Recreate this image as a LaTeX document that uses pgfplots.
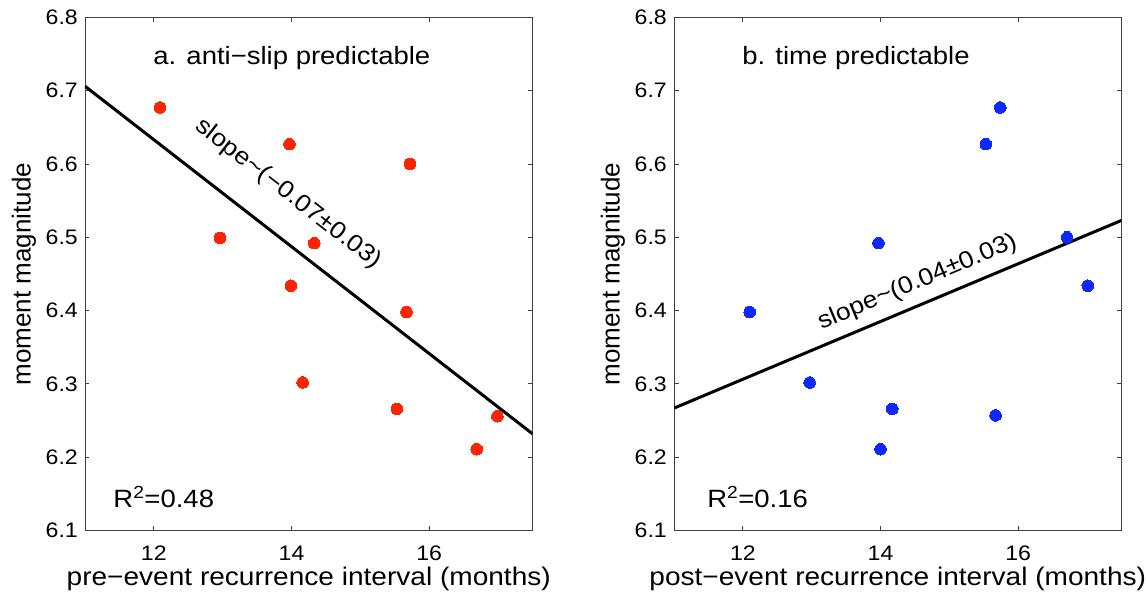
\documentclass[border=0pt]{standalone}
\usepackage{pgfplots}
\pgfplotsset{compat=1.18}
\usepackage{fontspec}
\setmainfont[FakeStretch=1.1]{Liberation Sans}
\newfontfamily\ylfont{Liberation Sans}
\definecolor{ptred}{RGB}{255,35,0}
\definecolor{ptblue}{RGB}{15,40,255}
\pgfplotsset{
  myax/.style={
    scale only axis, width=447.5bp, height=513.3bp,
    xmin=11, xmax=17.5, ymin=6.1, ymax=6.8,
    xtick={12,14,16}, xticklabels={12,14,16},
    ytick={6.1,6.2,6.3,6.4,6.5,6.6,6.7,6.8},
    yticklabels={6.1,6.2,6.3,6.4,6.5,6.6,6.7,6.8},
    tick align=inside, major tick length=4.5bp,
    xtick pos=both, ytick pos=both,
    axis line style={black!75, line width=0.9bp},
    every tick/.style={black!75, line width=0.9bp},
    tick label style={font=\fontsize{21bp}{25bp}\selectfont, inner sep=0pt},
    yticklabel style={xshift=-7bp},
    xticklabel style={yshift=-15bp},
    x label style={at={(axis description cs:0.5,-0.106)}, anchor=base, inner sep=0pt,
      font=\fontsize{25.5bp}{30bp}\selectfont},
    y label style={at={(axis description cs:-0.1363,0.5)}, anchor=center, inner sep=0pt,
      font=\ylfont\fontsize{26bp}{30bp}\selectfont},
    ylabel={moment magnitude},
  }
}
\begin{document}
\begin{tikzpicture}
\useasboundingbox (-85bp,-65.4bp) rectangle (1061bp,530.6bp);
\begin{axis}[myax, at={(0,0)}, anchor=south west,
  xlabel={pre−event recurrence interval (months)}]
\addplot[only marks, mark=*, mark size=5.8bp, mark options={fill=ptred, draw=ptred, line width=0pt}]
  coordinates {
  (12.09,6.677) (13.97,6.627) (15.72,6.600) (12.96,6.499) (14.33,6.492)
  (13.99,6.434) (15.67,6.398) (14.16,6.302) (15.53,6.266) (16.99,6.256)
  (16.69,6.211)
  };
\addplot[black, line width=3bp] coordinates {(11,6.706) (17.5,6.232)};
\node[anchor=base west, inner sep=0pt, font=\fontsize{25bp}{30bp}\selectfont]
  at (axis cs:11.99,6.735) {a. anti−slip predictable};
\node[anchor=base west, inner sep=0pt, font=\fontsize{25bp}{30bp}\selectfont]
  at (axis cs:11.41,6.1315) {R\textsuperscript{2}=0.48};
\node[rotate=-37.85, inner sep=0pt, font=\fontsize{24bp}{28bp}\selectfont]
  at (axis cs:13.955,6.559) {slope\textasciitilde(−0.07±0.03)};
\end{axis}
\begin{axis}[myax, at={(589bp,0)}, anchor=south west,
  xlabel={post−event recurrence interval (months)}]
\addplot[only marks, mark=*, mark size=5.8bp, mark options={fill=ptblue, draw=ptblue, line width=0pt}]
  coordinates {
  (15.74,6.677) (15.53,6.627) (13.97,6.492) (16.71,6.500) (17.01,6.434)
  (12.10,6.398) (12.97,6.302) (14.17,6.266) (15.67,6.257) (14.00,6.211)
  };
\addplot[black, line width=3bp] coordinates {(11,6.267) (17.5,6.523)};
\node[anchor=base west, inner sep=0pt, font=\fontsize{25bp}{30bp}\selectfont]
  at (axis cs:11.99,6.735) {b. time predictable};
\node[anchor=base west, inner sep=0pt, font=\fontsize{25bp}{30bp}\selectfont]
  at (axis cs:11.48,6.1315) {R\textsuperscript{2}=0.16};
\node[rotate=22.8, inner sep=0pt, font=\fontsize{24bp}{28bp}\selectfont]
  at (axis cs:14.536,6.4385) {slope\textasciitilde(0.04±0.03)};
\end{axis}
\end{tikzpicture}
\end{document}
